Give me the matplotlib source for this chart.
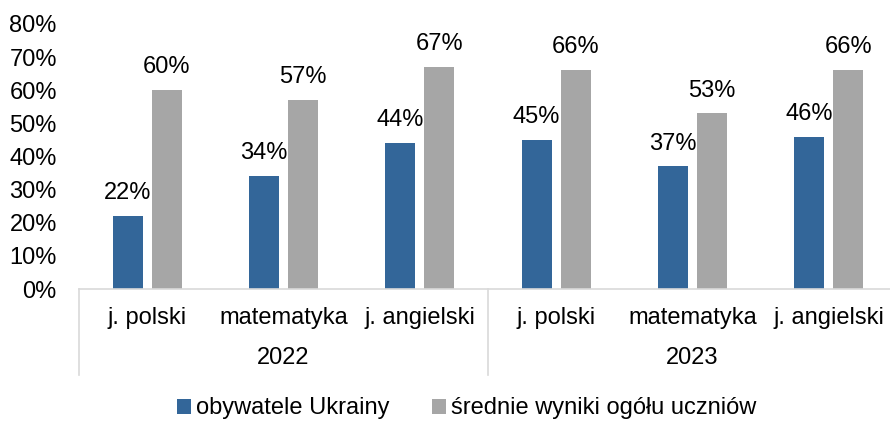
import numpy as np
import matplotlib.pyplot as plt

plt.rcParams['font.family'] = ['Liberation Sans', 'DejaVu Sans']

subjects = ['j. polski', 'matematyka', 'j. angielski']
years = ['2022', '2023']
ukraina = [22, 34, 44, 45, 37, 46]
ogol = [60, 57, 67, 66, 53, 66]
series_names = ['obywatele Ukrainy', 'średnie wyniki ogółu uczniów']

blue = '#336699'
gray = '#A6A6A6'
fs = 17

fig = plt.figure(figsize=(8.9, 4.21), dpi=100)
ax = fig.add_axes([0.0888, 0.3135, 0.919, 0.6295])

n = len(ukraina)
x = np.arange(n)
w = 0.22
off = 0.143
b1 = ax.bar(x - off, ukraina, w, color=blue, label=series_names[0])
b2 = ax.bar(x + off, ogol, w, color=gray, label=series_names[1])

for bars, vals in ((b1, ukraina), (b2, ogol)):
    for r, v in zip(bars, vals):
        ax.text(r.get_x() + r.get_width() / 2, v + 3.6, f'{v}%',
                ha='center', va='bottom', fontsize=fs)

ax.set_xlim(-0.5, n - 0.5)
ax.set_ylim(0, 80)
ax.set_yticks(range(0, 81, 10))
ax.set_yticklabels([f'{t}%' for t in range(0, 81, 10)], fontsize=fs)
ax.tick_params(axis='y', length=0, pad=16)
ax.set_xticks([])
for s in ['top', 'right', 'left']:
    ax.spines[s].set_visible(False)
ax.spines['bottom'].set_color('#D9D9D9')
ax.spines['bottom'].set_linewidth(1.2)

# category labels and year groups under the axis
trans = ax.get_xaxis_transform()
for i in range(n):
    ax.text(x[i], -0.11, subjects[i % 3], transform=trans, ha='center',
            va='center', fontsize=fs)
for j, yr in enumerate(years):
    ax.text(3 * j + 1, -0.26, yr, transform=trans, ha='center',
            va='center', fontsize=fs)
for xv in [-0.5, 2.5]:
    ax.plot([xv, xv], [0, -0.325], transform=trans, color='#D9D9D9',
            lw=1.2, clip_on=False)

fig.legend(handles=[b1, b2], loc='center', bbox_to_anchor=(0.524, 0.03),
           ncol=2, frameon=False, fontsize=fs, handlelength=0.6,
           handleheight=0.6, handletextpad=0.2, columnspacing=1.8)

fig.savefig('out.png', dpi=100)
